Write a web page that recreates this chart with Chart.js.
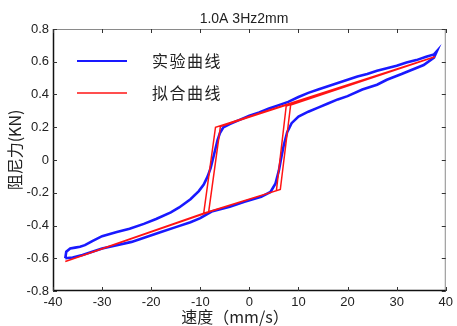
<!DOCTYPE html>
<html>
<head>
<meta charset="utf-8">
<script src="https://cdn.jsdelivr.net/npm/chart.js@4/dist/chart.umd.min.js"></script>
<style>
html,body{margin:0;padding:0;background:#fff;}
#c{display:block;}
</style>
</head>
<body>
<canvas id="c" width="457" height="326"></canvas>
<script>
// ---- data ----
const titleText = '1.0A 3Hz2mm';
const xTitle = '速度（mm/s）';
const yTitle = '阻尼力(KN)';
const seriesNames = ['实验曲线', '拟合曲线'];

const xTickValues = [-40, -30, -20, -10, 0, 10, 20, 30, 40];
const yTickValues = [-0.8, -0.6, -0.4, -0.2, 0, 0.2, 0.4, 0.6, 0.8];

// experimental curve (blue): lower branch rightwards, then upper branch leftwards
const expV = [-37.5,-36,-34,-32,-30,-27,-24,-21,-18,-15,-12,-10,-7.7,-4,-1,2.4,4.3,5.3,6.0,6.5,7.0,7.7,8.6,10,12,14,16,18,20,23,26,28,31,33,35.5,37.6,38.2,
  37.6,36,34,32,30,28,26,24,22,20,18,16,14,12,10,7.9,6,4,2,0,-2,-4,-5.3,-6.0,-6.5,-6.9,-7.4,-7.9,-8.5,-9.3,-10.3,-12,-14.3,-16,-19,-21.5,-24.4,-27,-30,-32,-33.5,-34.5,-35.5,-36.5,-37.3,-37.5];
const expF = [-0.60,-0.595,-0.58,-0.56,-0.54,-0.52,-0.50,-0.47,-0.44,-0.41,-0.38,-0.355,-0.315,-0.285,-0.255,-0.225,-0.195,-0.145,-0.065,0.015,0.09,0.17,0.225,0.265,0.295,0.32,0.345,0.37,0.39,0.43,0.46,0.49,0.525,0.55,0.58,0.625,0.665,
  0.645,0.63,0.61,0.595,0.575,0.56,0.545,0.525,0.51,0.49,0.47,0.45,0.43,0.41,0.385,0.355,0.335,0.315,0.29,0.27,0.245,0.22,0.2,0.165,0.12,0.07,0.01,-0.05,-0.10,-0.15,-0.19,-0.24,-0.29,-0.32,-0.36,-0.39,-0.42,-0.44,-0.465,-0.495,-0.52,-0.53,-0.535,-0.54,-0.56,-0.60];

// fitted curve (red): two cycles of the fitted loop
const fitV = [-37.5,-9.3,5.5,7.5,37.8,-6.9,-9.3,-37.5,-8.3,6.3,8.4,37.8,-5.9,-8.3,-37.5];
const fitF = [-0.62,-0.325,-0.187,0.33,0.63,0.20,-0.325,-0.62,-0.318,-0.18,0.335,0.63,0.205,-0.318,-0.62];

const toPts = (xs, ys) => xs.map((x, i) => ({x: x, y: ys[i]}));

const LATIN = '"Liberation Sans", Arial, sans-serif';
const CJK = '"Noto Sans CJK SC", "Liberation Sans", sans-serif';

const decorPlugin = {
  id: 'decor',
  afterDatasetsDraw(chart) {
    const ctx = chart.ctx;
    const a = chart.chartArea;
    const xs = chart.scales.x, ys = chart.scales.y;
    ctx.save();
    // box: top/right grey, left/bottom black
    ctx.lineWidth = 1;
    ctx.strokeStyle = '#8a8a8a';
    ctx.beginPath();
    ctx.moveTo(a.left, a.top + 0.5); ctx.lineTo(a.right, a.top + 0.5);
    ctx.moveTo(a.right - 0.5, a.top); ctx.lineTo(a.right - 0.5, a.bottom);
    ctx.stroke();
    ctx.strokeStyle = '#111';
    ctx.lineWidth = 1.5;
    ctx.beginPath();
    ctx.moveTo(a.left + 0.5, a.top); ctx.lineTo(a.left + 0.5, a.bottom);
    ctx.moveTo(a.left, a.bottom - 0.5); ctx.lineTo(a.right, a.bottom - 0.5);
    ctx.stroke();
    // inward ticks
    const tl = 4;
    ctx.lineWidth = 1;
    ctx.strokeStyle = '#333';
    ctx.beginPath();
    xTickValues.forEach(v => {
      const px = Math.round(xs.getPixelForValue(v)) + 0.5;
      ctx.moveTo(px, a.bottom); ctx.lineTo(px, a.bottom - tl);
      ctx.moveTo(px, a.top); ctx.lineTo(px, a.top + tl);
    });
    yTickValues.forEach(v => {
      const py = Math.round(ys.getPixelForValue(v)) + 0.5;
      ctx.moveTo(a.left, py); ctx.lineTo(a.left + tl, py);
      ctx.moveTo(a.right, py); ctx.lineTo(a.right - tl, py);
    });
    ctx.stroke();

    // legend
    const ds = chart.data.datasets;
    const legY = [61, 93];
    ds.forEach((d, i) => {
      ctx.strokeStyle = d.borderColor;
      ctx.lineWidth = i === 0 ? 2 : 1.5;
      ctx.beginPath();
      ctx.moveTo(77, legY[i]); ctx.lineTo(127, legY[i]);
      ctx.stroke();
      ctx.fillStyle = '#222';
      ctx.font = '16px ' + CJK;
      ctx.textBaseline = 'middle';
      ctx.textAlign = 'left';
      let x = 152;
      for (const ch of d.label) {
        ctx.fillText(ch, x, legY[i]);
        x += 17.5;
      }
    });

    // title
    ctx.fillStyle = '#222';
    ctx.font = '14px ' + LATIN;
    ctx.textAlign = 'center';
    ctx.textBaseline = 'middle';
    ctx.fillText(titleText, 244, 19);

    // x axis title
    ctx.font = '16px ' + CJK;
    ctx.fillText(xTitle, 235, 317);

    // y axis title
    ctx.save();
    ctx.translate(15, 150);
    ctx.rotate(-Math.PI / 2);
    ctx.fillText(yTitle, 0, 0);
    ctx.restore();

    ctx.restore();
  }
};

new Chart(document.getElementById('c'), {
  type: 'scatter',
  data: {
    datasets: [
      {
        label: seriesNames[0],
        data: toPts(expV, expF),
        showLine: true,
        borderColor: 'rgb(25,25,255)',
        backgroundColor: 'rgb(25,25,255)',
        borderWidth: 2.6,
        pointRadius: 0,
        tension: 0,
        order: 1
      },
      {
        label: seriesNames[1],
        data: toPts(fitV, fitF),
        showLine: true,
        borderColor: 'rgb(255,20,20)',
        backgroundColor: 'rgb(255,20,20)',
        borderWidth: 1.5,
        pointRadius: 0,
        tension: 0,
        order: 0
      }
    ]
  },
  options: {
    responsive: false,
    animation: false,
    devicePixelRatio: 1,
    layout: { padding: { left: 0, right: 8, top: 29, bottom: 0 } },
    plugins: {
      legend: { display: false },
      title: { display: false },
      tooltip: { enabled: false }
    },
    scales: {
      x: {
        type: 'linear',
        min: -40, max: 40,
        grid: { display: false, drawTicks: false },
        border: { display: false },
        afterBuildTicks: s => { s.ticks = xTickValues.map(v => ({value: v})); },
        afterFit: s => { s.height = 35; },
        ticks: {
          padding: 4,
          color: '#222',
          font: { family: LATIN, size: 13 },
          maxRotation: 0,
          autoSkip: false,
          callback: v => String(v)
        }
      },
      y: {
        type: 'linear',
        min: -0.8, max: 0.8,
        grid: { display: false, drawTicks: false },
        border: { display: false },
        afterBuildTicks: s => { s.ticks = yTickValues.map(v => ({value: v})); },
        afterFit: s => { s.width = 53; },
        ticks: {
          padding: 4,
          color: '#222',
          font: { family: LATIN, size: 13 },
          autoSkip: false,
          callback: v => String(Math.round(v * 10) / 10)
        }
      }
    }
  },
  plugins: [decorPlugin]
});
</script>
</body>
</html>
